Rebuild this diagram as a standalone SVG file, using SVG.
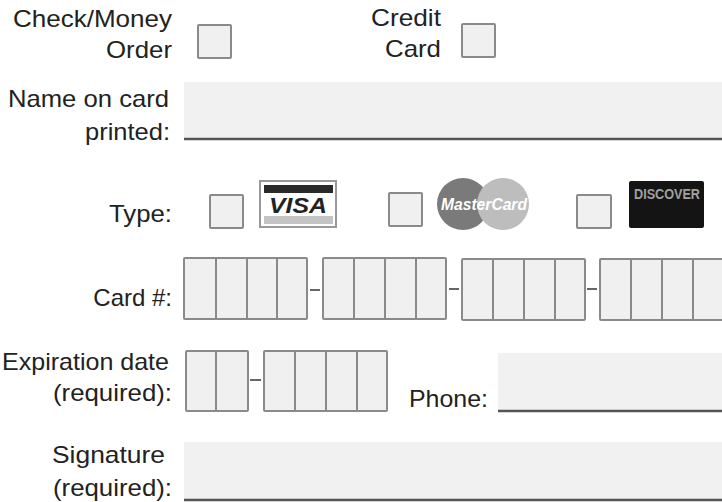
<svg xmlns="http://www.w3.org/2000/svg" width="722" height="502" viewBox="0 0 722 502">
<style>
.lbl{font-family:"Liberation Sans",Arial,sans-serif;font-size:24px;fill:#222;text-anchor:end}
.lbs{font-family:"Liberation Sans",Arial,sans-serif;font-size:24px;fill:#222}
.box{fill:#f0f0f0;stroke:#8a8a8a;stroke-width:2}
.div{stroke:#8a8a8a;stroke-width:2}
.fld{fill:#f1f1f1}
.ul{stroke:#555;stroke-width:2.5}
.dash{stroke:#666;stroke-width:2}
</style>
<rect width="722" height="502" fill="#fff"/>
<g id="check-money">
<text class="lbl" x="172" y="27" textLength="159" lengthAdjust="spacingAndGlyphs">Check/Money</text>
<text class="lbl" x="172" y="58" textLength="66" lengthAdjust="spacingAndGlyphs">Order</text>
<rect class="box" x="198" y="25" width="33" height="33" rx="1"/>
</g>
<g id="credit-card">
<text class="lbl" x="441" y="26" textLength="70" lengthAdjust="spacingAndGlyphs">Credit</text>
<text class="lbl" x="441" y="57" textLength="56" lengthAdjust="spacingAndGlyphs">Card</text>
<rect class="box" x="462" y="24" width="33" height="33" rx="1"/>
</g>
<g id="name-on-card">
<text class="lbl" x="169" y="107" textLength="161" lengthAdjust="spacingAndGlyphs">Name on card</text>
<text class="lbl" x="170" y="140" textLength="85" lengthAdjust="spacingAndGlyphs">printed:</text>
<rect class="fld" x="184" y="82" width="538" height="57"/>
<line class="ul" x1="184" y1="139" x2="722" y2="139"/>
</g>
<g id="type">
<text class="lbl" x="172" y="222" textLength="63" lengthAdjust="spacingAndGlyphs">Type:</text>
<rect class="box" x="210" y="195" width="33" height="33" rx="1"/>
<g id="visa">
<rect x="260" y="181" width="76" height="46" fill="#fff" stroke="#999" stroke-width="2"/>
<rect x="264" y="185" width="69" height="8" fill="#2a2a2a"/>
<text x="298" y="213" font-family="'Liberation Sans',Arial,sans-serif" font-size="22" font-weight="bold" font-style="italic" fill="#222" text-anchor="middle" textLength="58" lengthAdjust="spacingAndGlyphs">VISA</text>
<rect x="264" y="216" width="69" height="8" fill="#c4c4c4"/>
</g>
<rect class="box" x="389" y="193" width="33" height="33" rx="1"/>
<g id="mastercard">
<circle cx="463" cy="204" r="26" fill="#7a7a7a"/>
<circle cx="503" cy="204" r="26" fill="#bdbdbd"/>
<text x="484" y="210" font-family="'Liberation Sans',Arial,sans-serif" font-size="16" font-weight="bold" font-style="italic" fill="#fff" text-anchor="middle" textLength="86" lengthAdjust="spacingAndGlyphs">MasterCard</text>
</g>
<rect class="box" x="577" y="195" width="34" height="33" rx="1"/>
<g id="discover">
<rect x="629" y="181" width="75" height="47" rx="2" fill="#141414"/>
<text x="667" y="199" font-family="'Liberation Sans',Arial,sans-serif" font-size="14" font-weight="bold" fill="#a0a0a0" text-anchor="middle" textLength="66" lengthAdjust="spacingAndGlyphs">DISCOVER</text>
</g>
</g>
<g id="card-number">
<text class="lbl" x="172" y="306">Card #:</text>
<rect class="box" x="184" y="258" width="123" height="61" rx="1"/>
<line class="div" x1="216" y1="258" x2="216" y2="319"/>
<line class="div" x1="247" y1="258" x2="247" y2="319"/>
<line class="div" x1="277" y1="258" x2="277" y2="319"/>
<line class="dash" x1="310" y1="290" x2="320" y2="290"/>
<rect class="box" x="323" y="258" width="123" height="61" rx="1"/>
<line class="div" x1="354" y1="258" x2="354" y2="319"/>
<line class="div" x1="385" y1="258" x2="385" y2="319"/>
<line class="div" x1="416" y1="258" x2="416" y2="319"/>
<line class="dash" x1="449" y1="289" x2="459" y2="289"/>
<rect class="box" x="462" y="259" width="123" height="61" rx="1"/>
<line class="div" x1="493" y1="259" x2="493" y2="320"/>
<line class="div" x1="524" y1="259" x2="524" y2="320"/>
<line class="div" x1="555" y1="259" x2="555" y2="320"/>
<line class="dash" x1="587" y1="289" x2="597" y2="289"/>
<rect class="box" x="600" y="259" width="123" height="61" rx="1"/>
<line class="div" x1="631" y1="259" x2="631" y2="320"/>
<line class="div" x1="662" y1="259" x2="662" y2="320"/>
<line class="div" x1="693" y1="259" x2="693" y2="320"/>
</g>
<g id="expiration">
<text class="lbl" x="169" y="370" textLength="167" lengthAdjust="spacingAndGlyphs">Expiration date</text>
<text class="lbl" x="172" y="401" textLength="119" lengthAdjust="spacingAndGlyphs">(required):</text>
<rect class="box" x="186" y="351" width="62" height="60" rx="1"/>
<line class="div" x1="216" y1="351" x2="216" y2="411"/>
<line class="dash" x1="250" y1="380" x2="261" y2="380"/>
<rect class="box" x="264" y="351" width="123" height="60" rx="1"/>
<line class="div" x1="295" y1="351" x2="295" y2="411"/>
<line class="div" x1="326" y1="351" x2="326" y2="411"/>
<line class="div" x1="357" y1="351" x2="357" y2="411"/>
</g>
<g id="phone">
<text class="lbs" x="409" y="407" textLength="79" lengthAdjust="spacingAndGlyphs">Phone:</text>
<rect class="fld" x="498" y="353" width="224" height="58"/>
<line class="ul" x1="498" y1="411" x2="722" y2="411"/>
</g>
<g id="signature">
<text class="lbl" x="165" y="463" textLength="113" lengthAdjust="spacingAndGlyphs">Signature</text>
<text class="lbl" x="172" y="496" textLength="119" lengthAdjust="spacingAndGlyphs">(required):</text>
<rect class="fld" x="184" y="442" width="538" height="57"/>
<line class="ul" x1="184" y1="500" x2="722" y2="500"/>
</g>
</svg>
